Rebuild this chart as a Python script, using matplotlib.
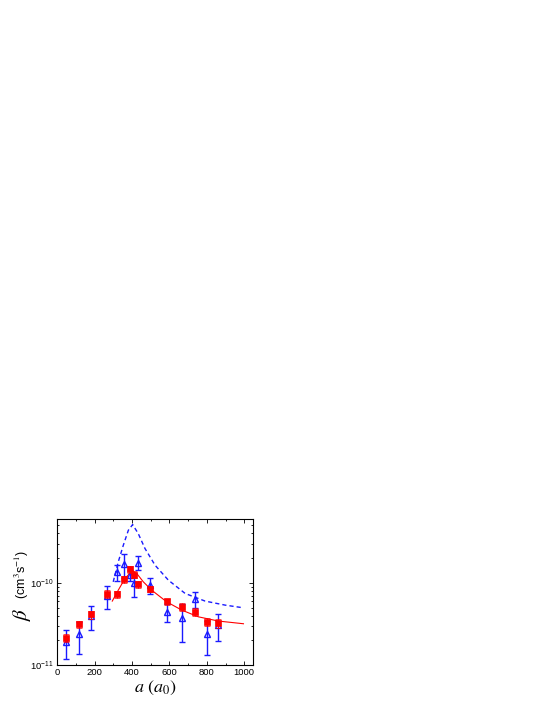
import matplotlib
matplotlib.use("Agg")
import matplotlib.pyplot as plt
from matplotlib.ticker import MultipleLocator, LogLocator, NullFormatter

plt.rcParams['font.family'] = ['Liberation Sans', 'DejaVu Sans']
plt.rcParams['mathtext.fontset'] = 'stix'

# Experimental data (x in a0, beta in units of 1e-11 cm^3/s)
red_x = [49, 115, 178, 266, 317, 356, 391, 412, 433, 497, 587, 668, 738, 803, 859]
red_y = [2.15, 3.12, 4.13, 7.35, 7.3, 11.1, 14.6, 12.6, 9.6, 8.4, 5.95, 5.15, 4.4, 3.36, 3.24]
red_err = [0.25, 0.3, 0.45, 0.8, 0.7, 1.0, 1.3, 1.2, 0.9, 0.7, 0.5, 0.55, 0.5, 0.4, 0.4]

blue_x = [49, 115, 178, 264, 317, 357, 389, 412, 433, 497, 587, 668, 738, 803, 859]
blue_y = [1.92, 2.38, 3.94, 6.9, 13.5, 17.0, 12.4, 9.9, 17.7, 9.5, 4.45, 3.7, 6.37, 2.38, 3.06]
blue_err = [0.72, 1.0, 1.3, 2.15, 3.0, 5.5, 2.0, 3.1, 3.5, 2.1, 1.1, 1.8, 1.4, 1.05, 1.1]

# Theory curves (x in a0, beta in 1e-11 cm^3/s)
dash_x = [299, 326, 353, 380, 403, 433, 469, 523, 594, 684, 791, 898, 996]
dash_y = [10.3, 18.0, 28.7, 43.7, 51.3, 39.8, 26.2, 16.4, 10.8, 7.43, 6.0, 5.36, 4.97]

solid_x = [294, 326, 362, 398, 425, 460, 505, 585, 666, 755, 862, 996]
solid_y = [6.0, 8.15, 11.3, 13.9, 13.0, 10.3, 8.15, 5.88, 4.66, 3.86, 3.43, 3.18]

scale = 1e-11

fig = plt.figure(figsize=(5.54, 7.17), dpi=100)
ax = fig.add_axes([0.1035, 0.0725, 0.3525, 0.2037])

blue = '#1a1aff'
red = '#ff0000'

ax.plot(dash_x, [v * scale for v in dash_y], color=blue, lw=1.0, ls=(0, (3, 2.2)))
ax.plot(solid_x, [v * scale for v in solid_y], color=red, lw=0.8)

ax.errorbar(blue_x, [v * scale for v in blue_y], yerr=[v * scale for v in blue_err],
            fmt='^', mfc='none', mec=blue, ms=5, mew=1.0, ecolor=blue, elinewidth=1.0,
            capsize=2, capthick=1.0, zorder=3)
ax.errorbar(red_x, [v * scale for v in red_y], yerr=[v * scale for v in red_err],
            fmt='s', mfc=red, mec=red, ms=4.8, mew=0.5, ecolor=red, elinewidth=0.8,
            capsize=2, capthick=0.8, zorder=4)

ax.set_yscale('log')
ax.set_xlim(0, 1045)
ax.set_ylim(1e-11, 6e-10)

ax.xaxis.set_major_locator(MultipleLocator(200))
ax.xaxis.set_minor_locator(MultipleLocator(100))
ax.yaxis.set_major_locator(LogLocator(base=10, numticks=10))
ax.yaxis.set_minor_locator(LogLocator(base=10, subs=range(2, 10), numticks=10))
ax.yaxis.set_minor_formatter(NullFormatter())

ax.tick_params(which='both', direction='in', top=True, right=True, labelsize=6.8, width=0.6)
ax.tick_params(which='major', length=3, pad=2.5)
ax.tick_params(which='minor', length=1.6)
for s in ax.spines.values():
    s.set_linewidth(0.8)

ax.set_xlabel(r'$a$ ($a_0$)', fontsize=13, family='STIXGeneral', labelpad=1)

# y label: large italic beta plus units
ax.text(-0.18, 0.345, r'$\beta$', transform=ax.transAxes, rotation=90,
        fontsize=15, ha='center', va='center')
ax.text(-0.183, 0.62, r'(cm$^3$s$^{-1}$)', transform=ax.transAxes, rotation=90,
        fontsize=9, ha='center', va='center')

fig.savefig('out.png', dpi=100)
